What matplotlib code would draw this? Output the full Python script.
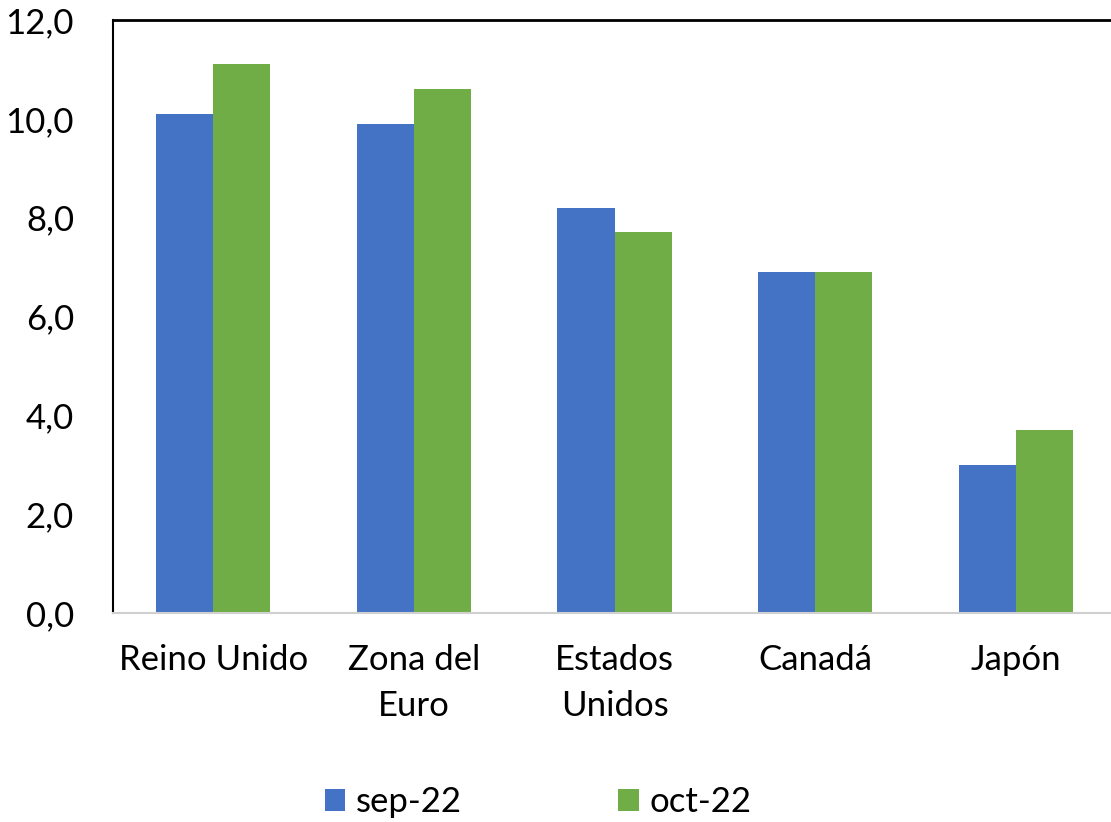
import numpy as np
import matplotlib.pyplot as plt
from matplotlib.ticker import FuncFormatter

# Data
paises = ['Reino Unido', 'Zona del\nEuro', 'Estados\nUnidos', 'Canadá', 'Japón']
sep_22 = [10.1, 9.9, 8.2, 6.9, 3.0]
oct_22 = [11.1, 10.6, 7.7, 6.9, 3.7]
series_labels = ['sep-22', 'oct-22']

plt.rcParams['font.family'] = ['Lato', 'DejaVu Sans']

fig = plt.figure(figsize=(11.11, 8.22), dpi=100)
ax = fig.add_axes([113 / 1111, 1 - 613 / 822, 1 - 113 / 1111, (613 - 20) / 822])

x = np.arange(len(paises))
w = 0.285
ax.bar(x - w / 2, sep_22, w, color='#4472C4', label=series_labels[0])
ax.bar(x + w / 2, oct_22, w, color='#70AD47', label=series_labels[1])

ax.set_ylim(0, 12)
ax.set_xlim(-0.5, 4.475)
ax.set_yticks(np.arange(0, 13, 2))
ax.yaxis.set_major_formatter(FuncFormatter(lambda v, p: f'{v:.1f}'.replace('.', ',')))
ax.set_xticks(x)
ax.set_xticklabels(paises, linespacing=1.55)
ax.tick_params(axis='y', length=0, pad=28, labelsize=25)
ax.tick_params(axis='x', length=0, pad=22, labelsize=25)

ax.spines['right'].set_visible(False)
ax.spines['left'].set_color('black')
ax.spines['left'].set_linewidth(1.5)
ax.spines['top'].set_color('black')
ax.spines['top'].set_linewidth(2)
ax.spines['bottom'].set_color('#d0d0d0')
ax.spines['bottom'].set_linewidth(1.5)

fig.legend(loc='center', bbox_to_anchor=(538 / 1111, 1 - 802 / 822), ncol=2,
           frameon=False, fontsize=25, handlelength=0.6, handleheight=0.6,
           handletextpad=0.3, columnspacing=4.5)

fig.savefig('out.png', dpi=100)
